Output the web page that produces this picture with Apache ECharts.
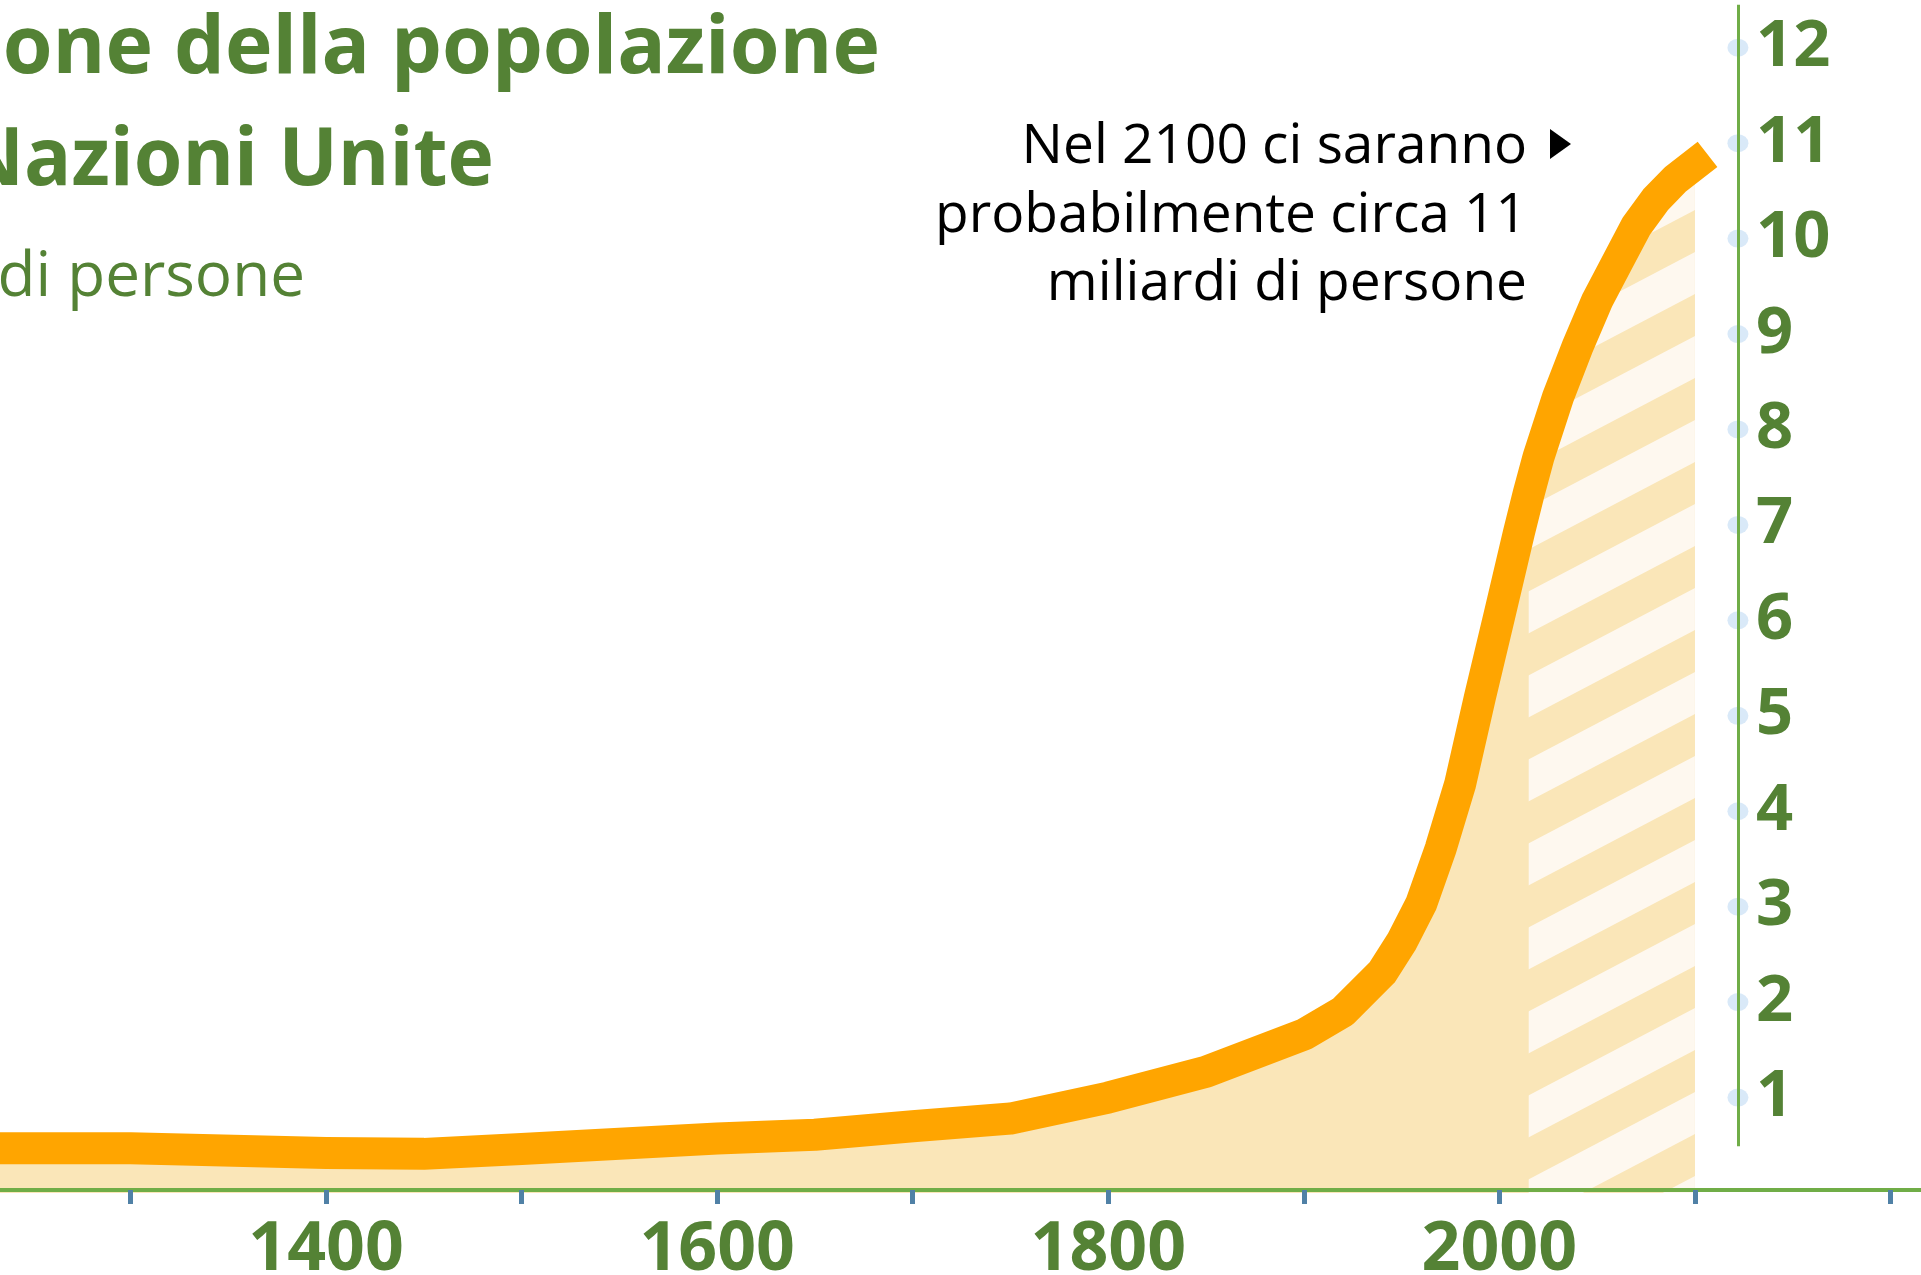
<!DOCTYPE html>
<html>
<head>
<meta charset="utf-8">
<title>Popolazione mondiale</title>
<script src="https://cdn.jsdelivr.net/npm/echarts@6/dist/echarts.min.js"></script>
<style>
  html, body { margin: 0; padding: 0; background: #fff; overflow: hidden; width: 1921px; height: 1275px; }
  /* il grafico originale è tagliato ai lati: la tela è più larga della pagina */
  #chart { position: absolute; left: -65px; top: 0; width: 2151px; height: 1275px; }
</style>
</head>
<body>
<div id="chart"></div>
<script>
  // popolazione mondiale in miliardi
  const years = [1200, 1300, 1400, 1450, 1500, 1600, 1650, 1700, 1750, 1800, 1850, 1900, 1920, 1940, 1950,
    1960, 1970, 1980, 1990, 2000, 2010, 2015, 2020, 2030, 2040, 2050, 2060, 2070, 2080, 2090, 2100];
  const population = [0.47, 0.47, 0.42, 0.41, 0.46, 0.57, 0.61, 0.70, 0.78, 1.00, 1.27, 1.66, 1.90, 2.31, 2.63,
    3.03, 3.61, 4.29, 5.19, 6.05, 6.92, 7.33, 7.71, 8.34, 8.87, 9.35, 9.74, 10.13, 10.41, 10.62, 10.78];
  const projectionStart = 2015;
  const xLabels = [1400, 1600, 1800, 2000];
  const yLabels = [1, 2, 3, 4, 5, 6, 7, 8, 9, 10, 11, 12];

  // asse verticale disegnato dentro il grafico
  const AXIS_YEAR = 2122;
  const AXIS_FROM = 0.49;
  const AXIS_TO = 12.45;

  const SHIFT = 65; // spostamento della tela verso sinistra
  const GREEN = '#548235';
  const FONT = '"Open Sans", "Noto Sans", sans-serif';

  const pairs = years.map((y, i) => [y, population[i]]);

  // tratteggio diagonale per la parte di proiezione
  function stripes() {
    const w = 160, p = 84;
    const c = document.createElement('canvas');
    c.width = w;
    c.height = p;
    const ctx = c.getContext('2d');
    ctx.fillStyle = '#FAE6B8';
    ctx.fillRect(0, 0, w, p);
    ctx.fillStyle = '#FEF8EF';
    for (let k = 0; k <= 2; k++) {
      ctx.beginPath();
      ctx.moveTo(0, k * p);
      ctx.lineTo(w, k * p - p);
      ctx.lineTo(w, k * p - p / 2);
      ctx.lineTo(0, k * p + p / 2);
      ctx.closePath();
      ctx.fill();
    }
    return c;
  }

  function txt(text, x, y, size, weight, color, sx) {
    return {
      type: 'text', x: x + SHIFT, y: y, scaleX: sx || 1, silent: true,
      style: {
        text: text, fill: color,
        font: weight + ' ' + size + 'px ' + FONT,
        align: 'right', textAlign: 'right',
        verticalAlign: 'middle', textVerticalAlign: 'middle'
      }
    };
  }

  const chart = echarts.init(document.getElementById('chart'));
  chart.setOption({
    animation: false,
    backgroundColor: '#ffffff',
    grid: { left: 0, right: 0, top: 0, bottom: 82, containLabel: false, outerBoundsMode: 'none' },
    xAxis: {
      type: 'value', min: 1200, max: 2300, interval: 100,
      offset: -3, z: 10,
      axisLine: { onZero: false, lineStyle: { color: '#70AD47', width: 4 } },
      axisTick: { length: 14, lineStyle: { color: '#5081A6', width: 5 } },
      splitLine: { show: false },
      axisLabel: {
        margin: 39, lineHeight: 44,
        color: GREEN, fontFamily: FONT, fontSize: 68, fontWeight: 'bold',
        formatter: v => xLabels.includes(v) ? String(v) : ''
      }
    },
    yAxis: {
      type: 'value', position: 'right', offset: -348,
      min: 0, max: 12.5, interval: 1,
      axisLine: { show: false, onZero: false },
      axisTick: { show: false },
      splitLine: { show: false },
      axisLabel: {
        margin: 18,
        color: GREEN, fontFamily: FONT, fontSize: 65, fontWeight: 'bold',
        formatter: v => yLabels.includes(v) ? String(v) : ''
      }
    },
    series: [
      {
        name: 'area', type: 'line', data: pairs, z: 1, silent: true,
        showSymbol: false,
        lineStyle: { opacity: 0 },
        areaStyle: { color: '#FAE6B8', opacity: 1 }
      },
      {
        name: 'proiezione', type: 'line', z: 2, silent: true,
        data: pairs.filter(p => p[0] >= projectionStart),
        showSymbol: false,
        lineStyle: { opacity: 0 },
        areaStyle: { color: { image: stripes(), repeat: 'repeat' }, opacity: 1 }
      },
      {
        name: 'tacche', type: 'scatter', z: 3, silent: true,
        data: yLabels.map(v => [AXIS_YEAR, v]),
        symbol: 'circle', symbolSize: [21, 18],
        itemStyle: { color: '#CFE3F6' }
      },
      {
        name: 'popolazione', type: 'line', data: pairs, z: 4, silent: true,
        showSymbol: false,
        lineStyle: { color: '#FFA500', width: 32, cap: 'square', join: 'round' },
        markLine: {
          silent: true, symbol: 'none',
          label: { show: false },
          lineStyle: { color: '#70AD47', width: 3, type: 'solid' },
          data: [[{ coord: [AXIS_YEAR, AXIS_FROM] }, { coord: [AXIS_YEAR, AXIS_TO] }]]
        }
      }
    ],
    graphic: [
      txt('Evoluzione della popolazione', 880, 50, 80.5, 'bold', GREEN),
      txt('mondiale secondo le Nazioni Unite', 494, 162, 81, 'bold', GREEN, 0.97),
      txt('Miliardi di persone', 305, 278, 62, 'normal', GREEN),
      txt('Nel 2100 ci saranno', 1527, 147, 55, 'normal', '#000000'),
      txt('probabilmente circa 11', 1527, 216, 55, 'normal', '#000000'),
      txt('miliardi di persone', 1527, 284, 55, 'normal', '#000000'),
      {
        type: 'polygon', silent: true,
        shape: { points: [[1550 + SHIFT, 129], [1571 + SHIFT, 144], [1550 + SHIFT, 159]] },
        style: { fill: '#000000' }
      }
    ]
  });
</script>
</body>
</html>
